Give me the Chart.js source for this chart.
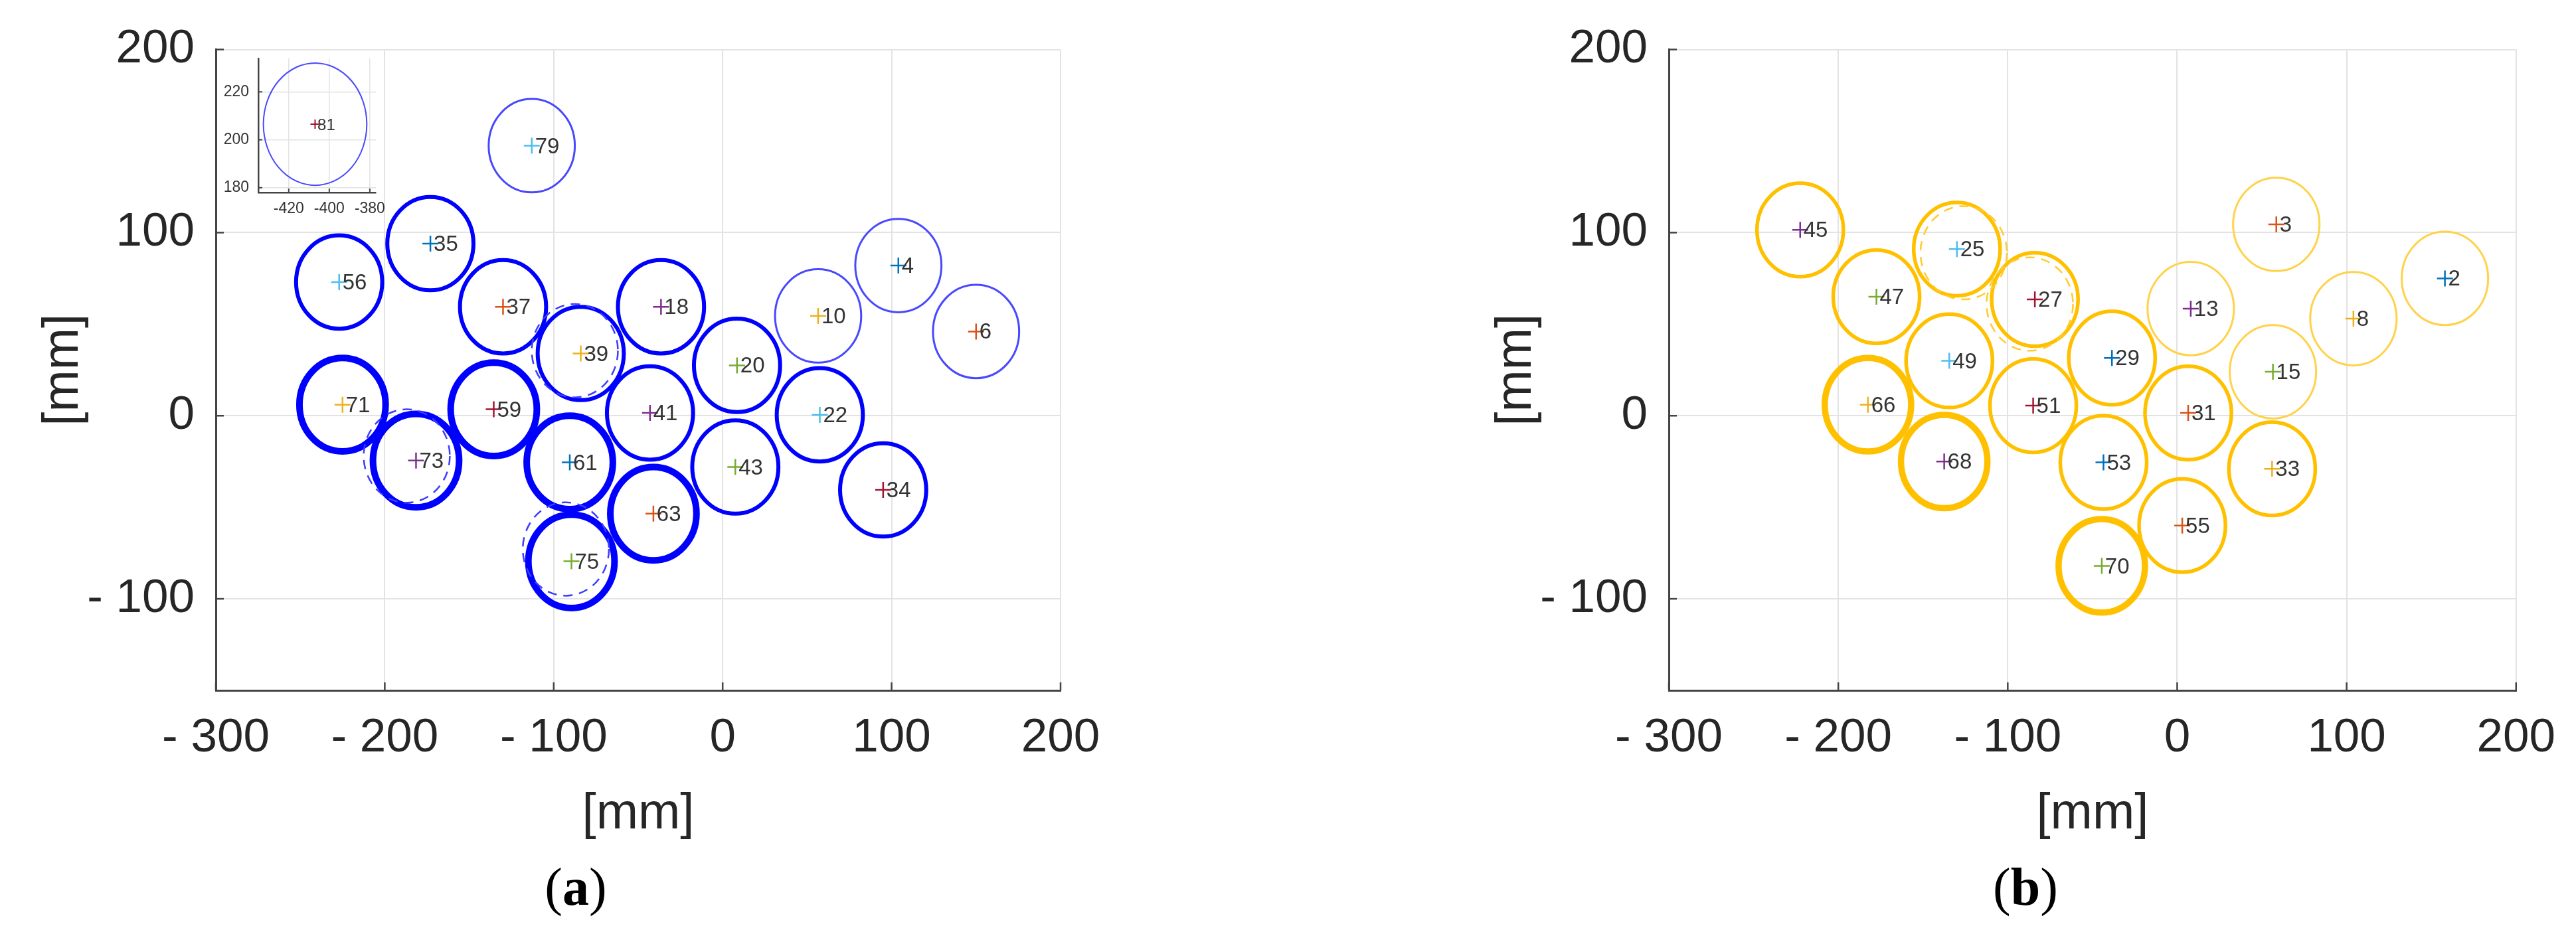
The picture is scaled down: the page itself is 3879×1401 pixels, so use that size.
<!DOCTYPE html>
<html>
<head>
<meta charset="utf-8">
<title>ring positions (a) / (b)</title>
<script src="https://cdn.jsdelivr.net/npm/chart.js"></script>
<style>
  html, body { margin: 0; padding: 0; background: #fff; }
  body { width: 3879px; height: 1401px; position: relative; overflow: hidden; }
  canvas { position: absolute; }
  .tag { position: absolute; font-family: "Liberation Serif", "DejaVu Serif", serif; font-size: 80px; color: #000; line-height: 1; transform: translate(-50%, -50%); white-space: nowrap; }
</style>
</head>
<body>
<canvas id="chartA" width="1700" height="1290" style="left:0px;top:0px"></canvas>
<canvas id="chartB" width="1690" height="1290" style="left:2188px;top:0px"></canvas>
<canvas id="inset" width="262" height="272" style="left:330px;top:60px"></canvas>
<div class="tag" style="left:867px;top:1336px">(<b>a</b>)</div>
<div class="tag" style="left:3050px;top:1336px">(<b>b</b>)</div>
<script>
// ---- panel (a) : blue rings ----
let idsA = [4, 6, 10, 18, 20, 22, 34, 35, 37, 39, 41, 43, 56, 59, 61, 63, 71, 73, 75, 79];
let xA = [104, 150, 56.5, -36.5, 8.5, 57.5, 95, -173, -130, -84, -43, 7.5, -227, -135.5, -90.5, -41, -225, -181.5, -89.5, -113];
let yA = [82, 46, 54.5, 59.5, 27.5, 0.5, -40.5, 94, 59.5, 34, 1.5, -28, 73, 3.5, -25.5, -53.5, 6, -24.5, -79.5, 147.5];
let levelA = [1, 1, 1, 2, 2, 2, 2, 2, 2, 2, 2, 2, 2, 3, 3, 3, 3, 3, 3, 1];
let dashXA = [-87.5, -187, -92.8];
let dashYA = [35.5, -22, -72.8];

// inset of (a) : point 81 far away
let idsIn = [81];
let xIn = [-407];
let yIn = [206.5];
let levelIn = [1];

// ---- panel (b) : yellow rings ----
let idsB = [2, 3, 8, 13, 15, 25, 27, 29, 31, 33, 45, 47, 49, 51, 53, 55, 66, 68, 70];
let xB = [158, 58.5, 104, 8, 56.5, -130, -84, -38.5, 6.5, 56, -222.5, -177.5, -134.5, -85, -43.5, 3, -182.5, -137.5, -44.5];
let yB = [75, 104.5, 53, 58.5, 24, 91, 63.5, 31.5, 1.5, -29, 101.5, 65, 30, 5.5, -25.5, -60, 6, -25, -82];
let levelB = [1, 1, 1, 1, 1, 2, 2, 2, 2, 2, 2, 2, 2, 2, 2, 2, 3, 3, 3];
let dashXB = [-126, -87];
let dashYB = [89, 61];

let ringR = 25.5; // mm
let xTicks = [-300, -200, -100, 0, 100, 200];
let yTicks = [-100, 0, 100, 200];
let xTicksIn = [-420, -400, -380];
let yTicksIn = [180, 200, 220];

// matlab default colour order, cross colour follows plot order
let matlabColors = ['#0072BD', '#D95319', '#EDB120', '#7E2F8E', '#77AC30', '#4DBEEE', '#A2142F'];

Chart.defaults.font.family = "'Liberation Sans', Arial, sans-serif";
Chart.defaults.color = '#262626';

let lookA = {
    1: { w: 3, c: '#4848ff' },
    2: { w: 6, c: '#0000ff' },
    3: { w: 10, c: '#0000ff' },
    dash: { w: 2.5, c: '#3c3cff', dash: [14, 10] },
    mark: 12, markW: 2.5, font: 33
};
let lookIn = {
    1: { w: 2, c: '#4848ff' },
    dash: { w: 2, c: '#4848ff' },
    mark: 7, markW: 2, font: 24
};
let lookB = {
    1: { w: 3, c: '#ffd24a' },
    2: { w: 5.5, c: '#ffc000' },
    3: { w: 9.5, c: '#ffc000' },
    dash: { w: 2.5, c: '#ffcb2e', dash: [14, 10] },
    mark: 12, markW: 2.5, font: 33
};

// rings + number tags, drawn through the chart's own scales
const ringPlugin = {
    id: 'rings',
    beforeDatasetsDraw(chart) {
        let xs = chart.scales.x, ys = chart.scales.y, ctx = chart.ctx;
        ctx.save();
        chart.data.datasets.forEach(function(ds, i) {
            if (!ds.ring) return;
            let meta = chart.getDatasetMeta(i);
            meta.data.forEach(function(pt, j) {
                let v = ds.data[j];
                let rx = Math.abs(xs.getPixelForValue(v.x + ringR) - pt.x);
                let ry = Math.abs(ys.getPixelForValue(v.y + ringR) - pt.y);
                let st = ds.ring[j];
                ctx.lineWidth = st.w;
                ctx.strokeStyle = st.c;
                ctx.setLineDash(st.dash || []);
                ctx.beginPath();
                ctx.ellipse(pt.x, pt.y, rx, ry, 0, 0, Math.PI * 2);
                ctx.stroke();
            });
        });
        ctx.restore();
    },
    afterDatasetsDraw(chart) {
        let ctx = chart.ctx;
        ctx.save();
        chart.data.datasets.forEach(function(ds, i) {
            if (!ds.tags) return;
            let meta = chart.getDatasetMeta(i);
            ctx.font = ds.tagSize + "px 'Liberation Sans', Arial, sans-serif";
            ctx.fillStyle = '#333';
            ctx.textBaseline = 'middle';
            ctx.textAlign = 'left';
            meta.data.forEach(function(pt, j) {
                ctx.fillText(ds.tags[j], pt.x + ds.tagSize * 0.15, pt.y + 2);
            });
        });
        ctx.restore();
    }
};

// matlab style ticks pointing into the box
const inTicks = {
    id: 'inTicks',
    afterDraw(chart, args, opts) {
        let ctx = chart.ctx, a = chart.chartArea;
        let x = chart.scales.x, y = chart.scales.y;
        ctx.save();
        ctx.strokeStyle = '#444';
        ctx.lineWidth = opts.w;
        x.ticks.forEach(function(t) {
            let px = x.getPixelForValue(t.value);
            ctx.beginPath(); ctx.moveTo(px, a.bottom); ctx.lineTo(px, a.bottom - opts.len); ctx.stroke();
        });
        y.ticks.forEach(function(t) {
            let py = y.getPixelForValue(t.value);
            ctx.beginPath(); ctx.moveTo(a.left, py); ctx.lineTo(a.left + opts.len, py); ctx.stroke();
        });
        ctx.restore();
    }
};

function buildSets(ids, xs, ys, levels, dashX, dashY, look, colorStart) {
    let pts = xs.map(function(v, i) { return { x: v, y: ys[i] }; });
    let dashPts = dashX.map(function(v, i) { return { x: v, y: dashY[i] }; });
    return [
        { label: 'ring', data: pts, pointRadius: 0, ring: levels.map(function(l) { return look[l]; }) },
        { label: 'ring (dashed)', data: dashPts, pointRadius: 0, ring: dashPts.map(function() { return look.dash; }) },
        {
            label: 'centre', data: pts, pointStyle: 'cross',
            pointRadius: look.mark, pointBorderWidth: look.markW,
            pointBorderColor: ids.map(function(id, i) { return matlabColors[(colorStart + i) % 7]; }),
            tags: ids.map(String), tagSize: look.font
        }
    ];
}

function minusLabel(v) {
    return v < 0 ? '- ' + Math.abs(v) : String(v);
}

function mainOptions(padRight) {
    return {
        responsive: false,
        animation: false,
        events: [],
        layout: { padding: { top: 67, right: padRight, left: 0, bottom: 0 } },
        plugins: {
            legend: { display: false },
            tooltip: { enabled: false },
            inTicks: { len: 12, w: 2.5 }
        },
        scales: {
            x: {
                type: 'linear', position: 'bottom', min: -300, max: 200,
                afterBuildTicks: function(s) { s.ticks = xTicks.map(function(v) { return { value: v }; }); },
                afterFit: function(s) { s.height = 250; },
                ticks: { font: { size: 71 }, color: '#262626', padding: 30, maxRotation: 0, autoSkip: false, callback: minusLabel },
                grid: { color: '#e3e3e3', lineWidth: 2, drawTicks: false },
                border: { color: '#444', width: 3 },
                title: { display: true, text: '[mm]', font: { size: 76 }, color: '#262626', padding: { top: 0, bottom: 17 } }
            },
            y: {
                type: 'linear', position: 'left', min: -150, max: 200,
                afterBuildTicks: function(s) { s.ticks = yTicks.map(function(v) { return { value: v }; }); },
                afterFit: function(s) { s.width = 325; },
                ticks: { font: { size: 71 }, color: '#262626', padding: 32, autoSkip: false, callback: minusLabel },
                grid: { color: '#e3e3e3', lineWidth: 2, drawTicks: false },
                border: { color: '#444', width: 3 },
                title: { display: true, text: '[mm]', font: { size: 76 }, color: '#262626', padding: { top: 50, bottom: 0 } }
            }
        }
    };
}

function insetOptions() {
    return {
        responsive: false,
        animation: false,
        events: [],
        layout: { padding: { top: 20, right: 21, left: 0, bottom: 0 } },
        plugins: {
            legend: { display: false },
            tooltip: { enabled: false },
            inTicks: { len: 6, w: 2 }
        },
        scales: {
            x: {
                type: 'linear', position: 'bottom', min: -435, max: -377,
                afterBuildTicks: function(s) { s.ticks = xTicksIn.map(function(v) { return { value: v }; }); },
                afterFit: function(s) { s.height = 42; },
                ticks: { font: { size: 23 }, color: '#333', padding: 11, maxRotation: 0, autoSkip: false },
                grid: { color: '#e3e3e3', lineWidth: 1.5, drawTicks: false },
                border: { color: '#444', width: 2.5 }
            },
            y: {
                type: 'linear', position: 'left', min: 178, max: 234,
                afterBuildTicks: function(s) { s.ticks = yTicksIn.map(function(v) { return { value: v }; }); },
                afterFit: function(s) { s.width = 59; },
                ticks: { font: { size: 23 }, color: '#333', padding: 14, autoSkip: false },
                grid: { color: '#e3e3e3', lineWidth: 1.5, drawTicks: false },
                border: { color: '#444', width: 2.5 }
            }
        }
    };
}

let chartA = new Chart(document.getElementById('chartA').getContext('2d'), {
    type: 'scatter',
    data: { datasets: buildSets(idsA, xA, yA, levelA, dashXA, dashYA, lookA, 0) },
    options: mainOptions(103),
    plugins: [ringPlugin, inTicks]
});

// 81 is the 21st plotted point of (a) -> keeps its colour in the cycle
let chartIn = new Chart(document.getElementById('inset').getContext('2d'), {
    type: 'scatter',
    data: { datasets: buildSets(idsIn, xIn, yIn, levelIn, [], [], lookIn, idsA.length) },
    options: insetOptions(),
    plugins: [ringPlugin, inTicks]
});

let chartB = new Chart(document.getElementById('chartB').getContext('2d'), {
    type: 'scatter',
    data: { datasets: buildSets(idsB, xB, yB, levelB, dashXB, dashYB, lookB, 0) },
    options: mainOptions(88),
    plugins: [ringPlugin, inTicks]
});
</script>
</body>
</html>
